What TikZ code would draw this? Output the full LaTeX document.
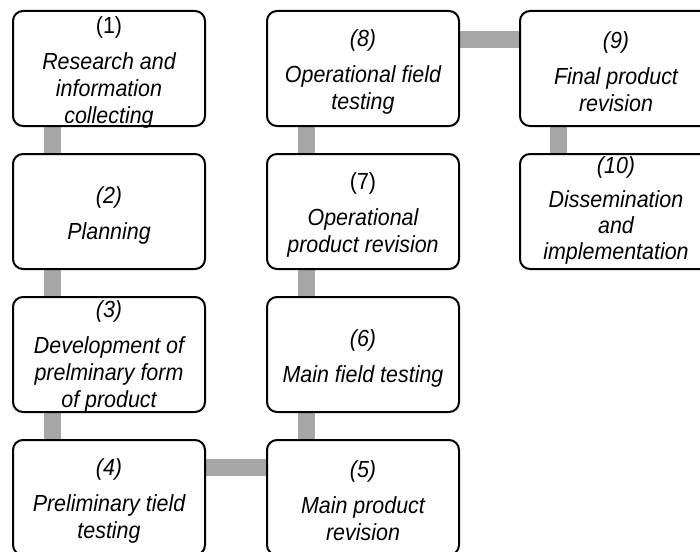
\documentclass[tikz,border=0pt]{standalone}
\usepackage{fontspec}
\setmainfont[FakeStretch=0.92]{Liberation Sans}
\usetikzlibrary{backgrounds}
\definecolor{linkgray}{HTML}{A6A6A6}
\tikzset{
  stage/.style={draw=black, line width=2pt, rounded corners=10pt, fill=white,
    minimum width=192pt, minimum height=115pt, inner sep=0pt, anchor=north west},
  stagetext/.style={align=center, inner sep=0pt, anchor=center,
    font=\fontsize{23.3}{27}\selectfont\itshape},
  link/.style={draw=linkgray, line width=17pt}
}
\begin{document}
\begin{tikzpicture}[x=1pt, y=-1pt]
  \useasboundingbox (0,0) rectangle (700,551);
  \clip (0,0) rectangle (700,551);

  % stage boxes
  \node[stage] (b1)  at (12,10)   {};
  \node[stage] (b2)  at (12,153)  {};
  \node[stage] (b3)  at (12,296)  {};
  \node[stage] (b4)  at (12,439)  {};
  \node[stage] (b5)  at (266,439) {};
  \node[stage] (b6)  at (266,296) {};
  \node[stage] (b7)  at (266,153) {};
  \node[stage] (b8)  at (266,10)  {};
  \node[stage] (b9)  at (519,10)  {};
  \node[stage] (b10) at (519,153) {};

  % stage labels
  \node[stagetext] (t1) at ([yshift=-3.5pt]b1.center)
    {{\upshape(1)}\\[9pt]Research and\\information\\collecting};
  \node[stagetext] (t2) at ([yshift=-3.5pt]b2.center)
    {(2)\\[9pt]Planning};
  \node[stagetext] (t3) at ([yshift=-2pt]b3.center)
    {(3)\\[9pt]Development of\\prelminary form\\of product};
  \node[stagetext] (t4) at ([yshift=-3.5pt]b4.center)
    {(4)\\[9pt]Preliminary tield\\testing};
  \node[stagetext] (t5) at ([yshift=-3.5pt]b5.center)
    {(5)\\[9pt]Main product\\revision};
  \node[stagetext] (t6) at ([yshift=-3.5pt]b6.center)
    {(6)\\[9pt]Main field testing};
  \node[stagetext] (t7) at ([yshift=-3.5pt]b7.center)
    {{\upshape(7)}\\[9pt]Operational\\product revision};
  \node[stagetext] (t8) at ([yshift=-3.5pt]b8.center)
    {(8)\\[9pt]Operational field\\testing};
  \node[stagetext] (t9) at ([yshift=-3.5pt]b9.center)
    {(9)\\[9pt]Final product\\revision};
  \node[stagetext, font=\fontsize{23.3}{26}\selectfont\itshape] (t10) at ([yshift=1pt]b10.center)
    {(10)\\[8pt]Dissemination\\and\\implementation};

  % connecting bars behind the boxes
  \begin{scope}[on background layer]
    \draw[link] ([xshift=40pt]b1.south west) -- ([xshift=40pt]b2.north west);
    \draw[link] ([xshift=40pt]b2.south west) -- ([xshift=40pt]b3.north west);
    \draw[link] ([xshift=40pt]b3.south west) -- ([xshift=40pt]b4.north west);
    \draw[link] ([yshift=-28pt]b4.north east) -- ([yshift=-28pt]b5.north west);
    \draw[link] ([xshift=40pt]b5.north west) -- ([xshift=40pt]b6.south west);
    \draw[link] ([xshift=40pt]b6.north west) -- ([xshift=40pt]b7.south west);
    \draw[link] ([xshift=40pt]b7.north west) -- ([xshift=40pt]b8.south west);
    \draw[link] ([yshift=-30pt]b8.north east) -- ([yshift=-30pt]b9.north west);
    \draw[link] ([xshift=39pt]b9.south west) -- ([xshift=39pt]b10.north west);
  \end{scope}
\end{tikzpicture}
\end{document}
